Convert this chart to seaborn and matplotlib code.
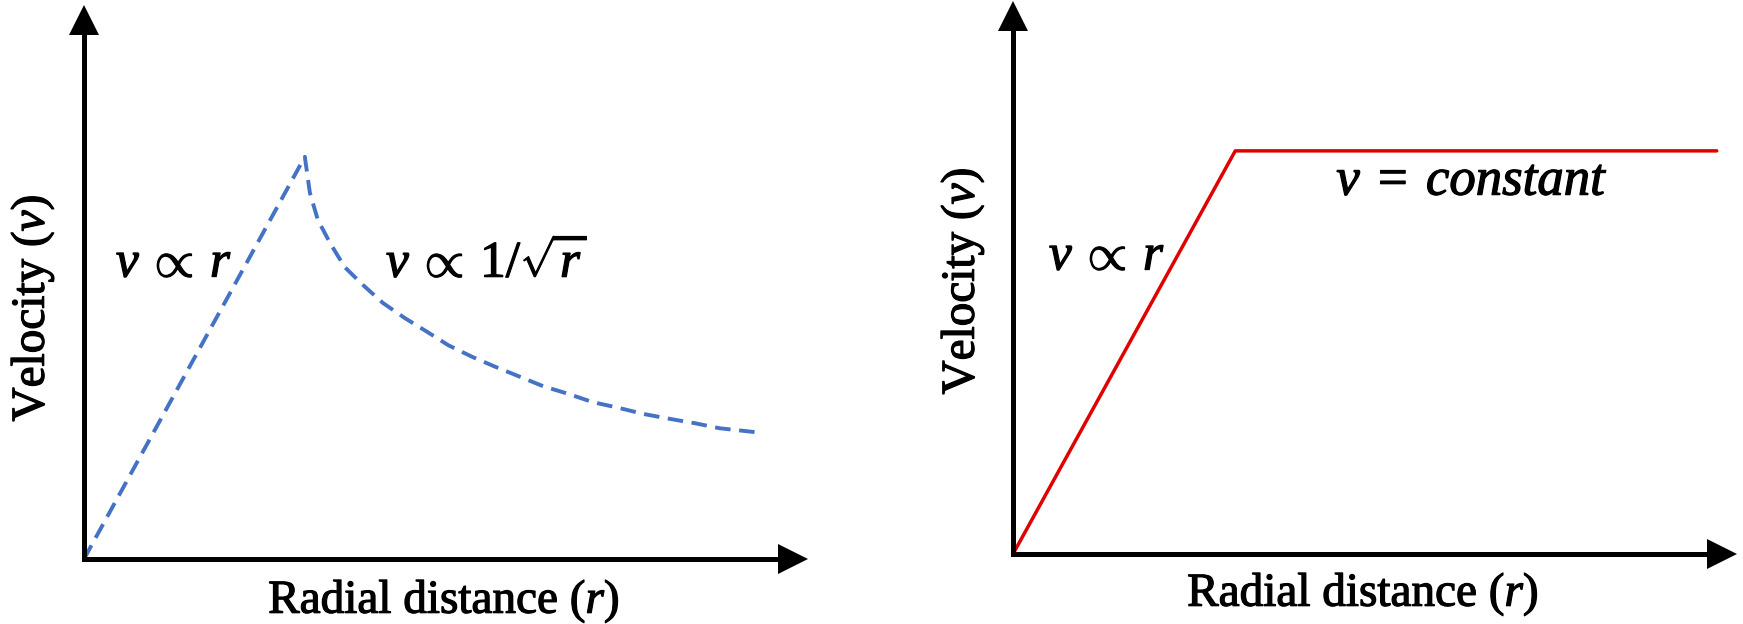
import numpy as np
import pandas as pd
import seaborn as sns
import matplotlib.pyplot as plt
import matplotlib.patheffects as pe
from matplotlib.transforms import offset_copy

# left panel: linear rise, then a 1/sqrt(r) fall-off
r_left = [0.0, 3.05, 3.12, 3.23, 3.40, 3.60, 3.85, 4.13, 4.43, 4.74, 5.03, 5.36,
          5.68, 6.02, 6.34, 6.69, 7.03, 7.38, 7.72, 8.09, 8.44, 8.78, 9.27]
v_left = [0.0, 7.26, 6.61, 6.12, 5.70, 5.27, 4.95, 4.62, 4.35, 4.10, 3.86, 3.65,
          3.47, 3.29, 3.12, 2.98, 2.83, 2.73, 2.62, 2.53, 2.45, 2.36, 2.29]

# right panel: linear rise, then flat
r_right = [0.0, 3.07, 9.72]
v_right = [0.0, 7.29, 7.29]

xlabel = 'Radial distance ($r$)'
ylabel = 'Velocity ($v$)'
left_notes = ['$v\\:\\propto\\:r$', '$v\\:\\propto\\:1/\\sqrt{r}$']
right_notes = ['$v\\:\\propto\\:r$', '$v\\;=\\;constant$']

sns.set_theme(style='white')
plt.rcParams['font.family'] = ['Liberation Serif', 'DejaVu Serif']
plt.rcParams['mathtext.fontset'] = 'custom'
plt.rcParams['mathtext.rm'] = 'Liberation Serif'
plt.rcParams['mathtext.it'] = 'Liberation Serif:italic'

W, H = 1743, 624
fig = plt.figure(figsize=(W / 100, H / 100), dpi=100)
fig.patch.set_facecolor('white')


def px_axes(x0, y0, x1, y1):
    # x0,y0 = origin pixel, x1 = arrow tip right, y1 = arrow tip top
    return fig.add_axes([x0 / W, (H - y0) / H, (x1 - x0) / W, (y0 - y1) / H])


def arrow_axes(ax, xb, yb):
    for s in ['top', 'right']:
        ax.spines[s].set_visible(False)
    for s in ['left', 'bottom']:
        ax.spines[s].set_linewidth(3.6)
        ax.spines[s].set_color('black')
        ax.spines[s].set_capstyle('projecting')
    ax.spines['bottom'].set_bounds(0, xb)
    ax.spines['left'].set_bounds(0, yb)
    ax.set_xticks([])
    ax.set_yticks([])
    ax.set_xlabel('')
    ax.set_ylabel('')
    ax.patch.set_alpha(0)
    tr = offset_copy(ax.transAxes, fig=fig, x=-15, y=0, units='dots')
    ax.plot([1], [0], marker='>', ms=21.6, color='black', mew=0,
            transform=tr, clip_on=False)
    tr = offset_copy(ax.transAxes, fig=fig, x=0, y=-15, units='dots')
    ax.plot([0], [1], marker='^', ms=21.6, color='black', mew=0,
            transform=tr, clip_on=False)


ax1 = px_axes(84, 559, 808, 5)
sns.lineplot(x=r_left, y=v_left, sort=False, color='#4472C4', lw=2.8,
             linestyle=(0, (4, 2.2)), ax=ax1)
ax1.set_xlim(0, 10)
ax1.set_ylim(0, 10)
arrow_axes(ax1, 9.7, 9.6)

ax2 = px_axes(1013, 554, 1737, 1)
sns.lineplot(x=r_right, y=v_right, sort=False, color='#E00000', lw=2.5, ax=ax2)
ax2.set_xlim(0, 10)
ax2.set_ylim(0, 10)
arrow_axes(ax2, 9.7, 9.55)

heavy = [pe.withStroke(linewidth=0.9, foreground='black')]


def px_text(x, y, s, rot=0, size=34):
    fig.text(x / 100, (H - y) / 100, s, transform=fig.dpi_scale_trans,
             ha='center', va='baseline', rotation=rot, rotation_mode='anchor',
             fontsize=size, color='black', path_effects=heavy)


px_text(444, 613, xlabel)
px_text(1363, 606, xlabel)
px_text(44, 308, ylabel, rot=90)
px_text(974, 281, ylabel, rot=90)

px_text(174, 277, left_notes[0], size=37)
px_text(487, 277, left_notes[1], size=37)
px_text(1107, 270, right_notes[0], size=37)
px_text(1472, 195, right_notes[1], size=38)

fig.savefig('out.png', dpi=100, facecolor='white')
